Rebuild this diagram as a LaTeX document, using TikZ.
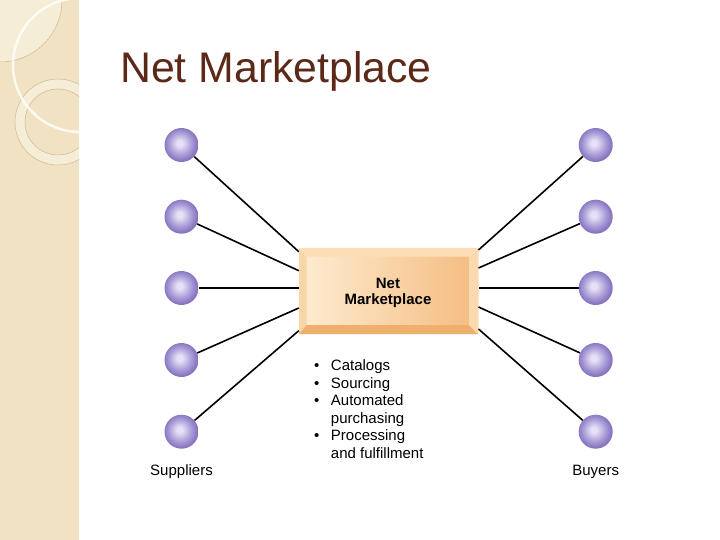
\documentclass[tikz,border=0pt]{standalone}
\usepackage{fontspec}
\setmainfont{Liberation Sans}
\usetikzlibrary{positioning}

\definecolor{striscia}{RGB}{240,226,194}
\definecolor{strisciachiara}{RGB}{246,237,214}
\definecolor{anello}{RGB}{205,185,150}
\definecolor{titolo}{RGB}{92,40,24}
\definecolor{sferachiara}{RGB}{230,226,246}
\definecolor{sferamedia}{RGB}{168,153,214}
\definecolor{sferascura}{RGB}{134,114,190}
\definecolor{facciachiara}{RGB}{253,234,206}
\definecolor{facciascura}{RGB}{245,190,132}
\definecolor{bordosup}{RGB}{251,222,182}
\definecolor{bordosin}{RGB}{249,214,168}
\definecolor{bordoinf}{RGB}{238,176,108}
\definecolor{bordodes}{RGB}{250,218,174}

\pgfdeclareradialshading{palla}{\pgfpoint{-3bp}{3bp}}{color(0bp)=(sferachiara); color(4bp)=(sferachiara); color(17bp)=(sferamedia); color(25bp)=(sferascura); color(50bp)=(sferascura)}
\pgfdeclarehorizontalshading{faccia}{100bp}{color(0bp)=(facciachiara); color(25bp)=(facciachiara); color(75bp)=(facciascura); color(100bp)=(facciascura)}

\begin{document}
\begin{tikzpicture}[x=1pt, y=-1pt,
  sfera/.style={circle, minimum size=34pt, inner sep=0pt, shading=palla},
  linea/.style={line width=1.6pt, black},
  testo/.style={font=\fontsize{15}{17.5}\selectfont, inner sep=0pt}]

  \useasboundingbox (0,0) rectangle (720,540);

  % Striscia decorativa a sinistra
  \fill[striscia] (0,0) rectangle (79,540);
  \begin{scope}
    \clip (0,0) rectangle (79,540);
    \fill[strisciachiara] (0,0) circle (62);
    \draw[anello, line width=0.5pt] (0,0) circle (62);
    \fill[strisciachiara, even odd rule] (58,122) circle (43) (58,122) circle (33);
    \draw[anello, line width=0.5pt] (58,122) circle (43);
    \draw[anello, line width=0.5pt] (58,122) circle (33);
    \draw[white, line width=2.5pt, opacity=0.8] (80,65) circle (67);
  \end{scope}

  % Titolo
  \node[anchor=base west, inner sep=0pt, text=titolo, font=\fontsize{42.8}{50}\selectfont] (titolo) at (120,83) {Net Marketplace};

  % Riquadro centrale con bordo in rilievo
  \node[minimum width=179.3pt, minimum height=86pt, inner sep=0pt] (mkt) at (388.65,291) {};
  \node[minimum width=162.3pt, minimum height=68.3pt, inner sep=0pt, shading=faccia] (face) at (387.85,290.85) {};
  \fill[bordosup] (mkt.north west) -- (mkt.north east) -- (face.north east) -- (face.north west) -- cycle;
  \fill[bordosin] (mkt.north west) -- (face.north west) -- (face.south west) -- (mkt.south west) -- cycle;
  \fill[bordoinf] (mkt.south west) -- (face.south west) -- (face.south east) -- (mkt.south east) -- cycle;
  \fill[bordodes] (mkt.north east) -- (face.north east) -- (face.south east) -- (mkt.south east) -- cycle;
  \node[align=center, font=\bfseries\fontsize{15}{16}\selectfont, inner sep=0pt] (mktlabel) at (388,292.8) {Net\\Marketplace};

  % Fornitori e acquirenti
  \foreach \i/\y in {1/145, 2/216.7, 3/288, 4/360, 5/431.7} {
    \node[sfera] (s\i) at (181.5,\y) {};
    \node[sfera] (b\i) at (595.7,\y) {};
  }

  % Collegamenti
  \foreach \i/\ys in {1/39.3, 2/20.3, 3/3, 4/-17, 5/-39.7}
    \draw[linea] (s\i) -- ([yshift=\ys pt]mkt.west);
  \foreach \i/\ys in {1/41, 2/23, 3/3, 4/-16, 5/-38}
    \draw[linea] (b\i) -- ([yshift=\ys pt]mkt.east);

  % Elenco dei servizi
  \node[testo, anchor=base west] (elenco) at (314,370.7) {%
    \begin{tabular}[t]{@{}l@{\hspace{11.5pt}}l@{}}
      \textbullet & Catalogs\\
      \textbullet & Sourcing\\
      \textbullet & Automated\\
                  & purchasing\\
      \textbullet & Processing\\
                  & and fulfillment
    \end{tabular}};

  % Etichette
  \node[testo, anchor=base] (suppliers) at (181.5,475) {Suppliers};
  \node[testo, anchor=base] (buyers) at (595.7,475) {Buyers};

\end{tikzpicture}
\end{document}
